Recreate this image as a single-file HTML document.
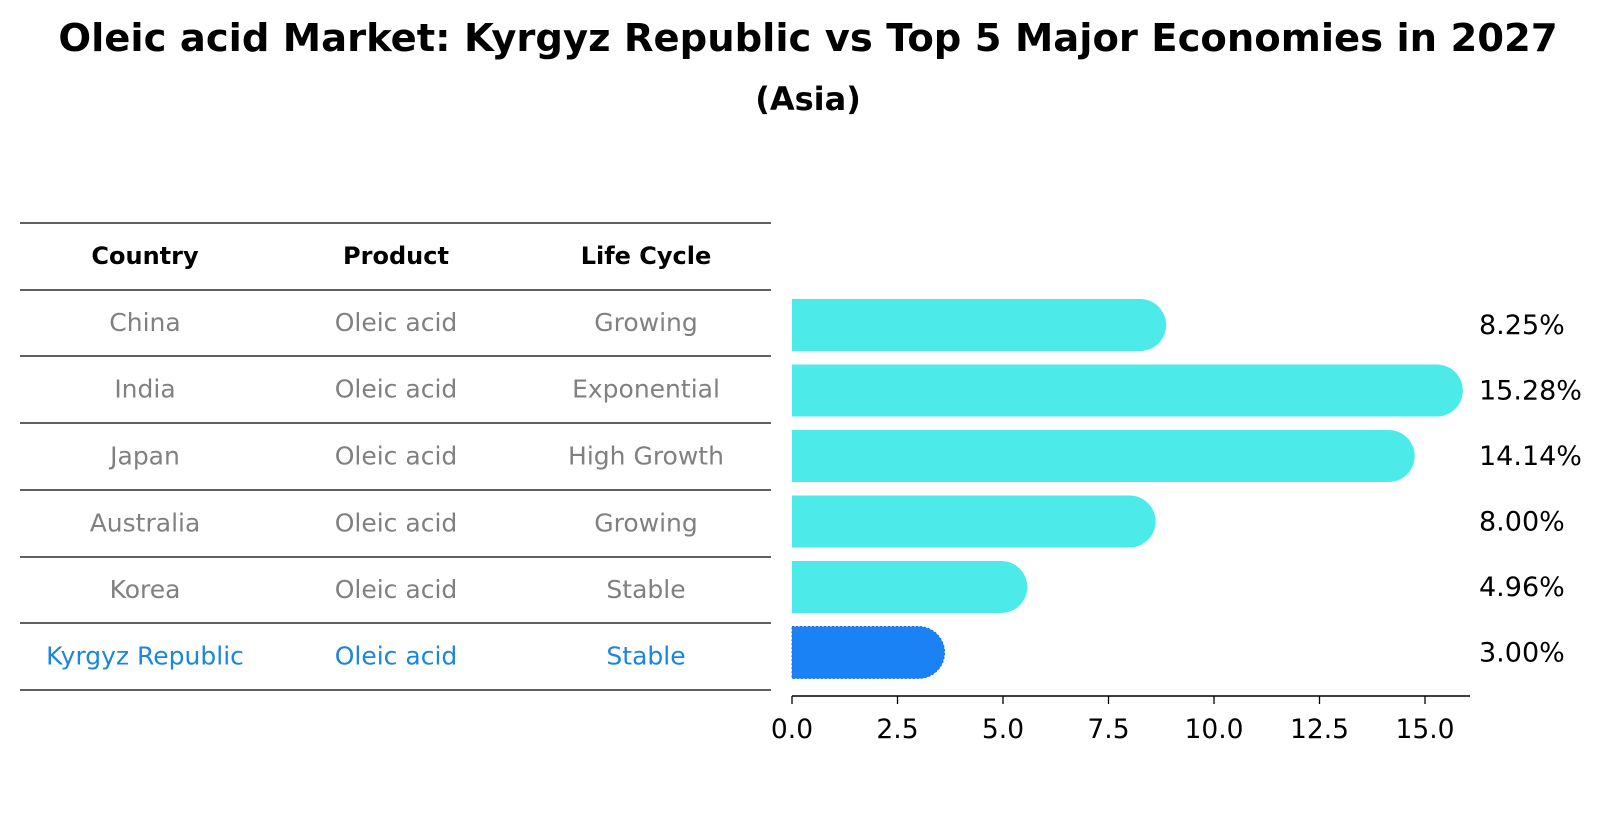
<!DOCTYPE html>
<html><head><meta charset="utf-8"><style>
body{margin:0;background:#fff;width:1604px;height:823px;overflow:hidden;font-family:"DejaVu Sans","Liberation Sans",sans-serif}
</style></head><body>
<svg width="1604" height="823" xmlns="http://www.w3.org/2000/svg" font-family="DejaVu Sans, Liberation Sans, sans-serif">
<text x="808" y="51" text-anchor="middle" font-size="38.5" font-weight="bold">Oleic acid Market: Kyrgyz Republic vs Top 5 Major Economies in 2027</text>
<text x="808" y="110" text-anchor="middle" font-size="32" font-weight="bold">(Asia)</text>
<g id="table"></g>
<g id="bars"></g>
</svg>
<script>
const countries=["China","India","Japan","Australia","Korea","Kyrgyz Republic"];
const products=["Oleic acid","Oleic acid","Oleic acid","Oleic acid","Oleic acid","Oleic acid"];
const lifecycles=["Growing","Exponential","High Growth","Growing","Stable","Stable"];
const values=[8.25,15.28,14.14,8.00,4.96,3.00];
const ticks=[0,2.5,5,7.5,10,12.5,15];
const NS="http://www.w3.org/2000/svg";
function mk(t,a,p){const e=document.createElementNS(NS,t);for(const k in a)e.setAttribute(k,a[k]);p.appendChild(e);return e;}
const tb=document.getElementById('table'),bg=document.getElementById('bars');
const lineYs=[223,290,356,423,490,557,623,690];
const colX=[145,396,646];
lineYs.forEach(y=>{const l=mk('line',{x1:20,x2:771,y1:y,y2:y,stroke:'#000','stroke-width':1.3},tb);

});
["Country","Product","Life Cycle"].forEach((h,i)=>{const t=mk('text',{x:colX[i],y:264,'text-anchor':'middle','font-size':24,'font-weight':'bold'},tb);t.textContent=h;

});
countries.forEach((c,r)=>{const y=(lineYs[r+1]+lineYs[r+2])/2+8;const col=r===countries.length-1?'#1a86e0':'#808080';
[c,products[r],lifecycles[r]].forEach((v,i)=>{const t=mk('text',{x:colX[i],y:y,'text-anchor':'middle','font-size':25,fill:col},tb);t.textContent=v;

});});
const x0=792,ppu=42.2,h=52,r=26;
const xs=v=>x0+v*ppu;
const ys=i=>325+i*65.5;
values.forEach((v,i)=>{const cy=ys(i),xe=xs(v);const last=i===values.length-1;
const p=mk('path',{d:`M${x0} ${cy-h/2} H${xe} A${r} ${r} 0 0 1 ${xe} ${cy+h/2} H${x0} Z`,fill:last?'#1a82f5':'#4deaea'},bg);
if(last){p.setAttribute('stroke','#1a6fd0');p.setAttribute('stroke-dasharray','2 2');p.setAttribute('stroke-width','1');}


const t=mk('text',{x:1479,y:cy+9,'font-size':27},bg);t.textContent=v.toFixed(2)+'%';

});
const ax=mk('line',{x1:x0,x2:1470,y1:696,y2:696,stroke:'#000','stroke-width':1.5},bg);


ticks.forEach(v=>{const x=xs(v);const tk=mk('line',{x1:x,x2:x,y1:696,y2:704,stroke:'#000','stroke-width':1.3},bg);


const t=mk('text',{x:x,y:738,'text-anchor':'middle','font-size':26.5},bg);t.textContent=v.toFixed(1);

});
</script>
</body></html>
